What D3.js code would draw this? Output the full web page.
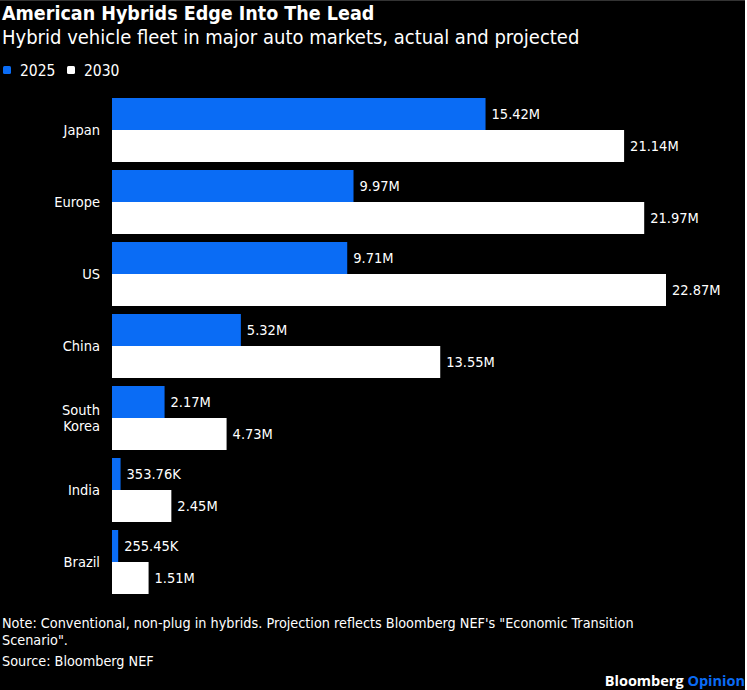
<!DOCTYPE html>
<html>
<head>
<meta charset="utf-8">
<script src="https://cdn.jsdelivr.net/npm/d3@7"></script>
<style>
  body { margin: 0; background: #fff; }
  svg text { font-family: "DejaVu Sans Condensed", "DejaVu Sans", sans-serif; }
</style>
</head>
<body>
<div id="chart"></div>
<script>
// data
var countries = ["Japan", "Europe", "US", "China", "South Korea", "India", "Brazil"];
var years = ["2025", "2030"];
var values2025 = [15.42, 9.97, 9.71, 5.32, 2.17, 0.35376, 0.25545];
var values2030 = [21.14, 21.97, 22.87, 13.55, 4.73, 2.45, 1.51];
var labels2025 = ["15.42M", "9.97M", "9.71M", "5.32M", "2.17M", "353.76K", "255.45K"];
var labels2030 = ["21.14M", "21.97M", "22.87M", "13.55M", "4.73M", "2.45M", "1.51M"];
var colors = ["#0a6cf5", "#ffffff"];

var width = 747, height = 690;

var svg = d3.select("#chart").append("svg")
    .attr("width", width)
    .attr("height", height);

svg.append("rect")
    .attr("width", 745).attr("height", height)
    .attr("fill", "#000");
svg.append("line")
    .attr("x1", 0).attr("x2", 745).attr("y1", 0.5).attr("y2", 0.5)
    .attr("stroke", "#333");

// titles
svg.append("text")
    .attr("x", 2).attr("y", 20)
    .attr("fill", "#fff")
    .style("font-size", "19.5px").style("font-weight", "bold")
    .text("American Hybrids Edge Into The Lead");
svg.append("text")
    .attr("x", 2).attr("y", 44)
    .attr("fill", "#fff")
    .style("font-size", "20px")
    .text("Hybrid vehicle fleet in major auto markets, actual and projected");

// legend
var legend = svg.selectAll("g.legend")
    .data(years)
  .enter().append("g")
    .attr("class", "legend")
    .attr("transform", function(d, i) { return "translate(" + (3 + i * 64) + ",66)"; });
legend.append("rect")
    .attr("width", 8).attr("height", 8).attr("rx", 1.5)
    .attr("fill", function(d, i) { return colors[i]; });
legend.append("text")
    .attr("x", 17).attr("y", 9.5)
    .attr("fill", "#fff")
    .style("font-size", "15.5px")
    .text(function(d) { return d; });

// scales
var x = d3.scaleLinear().domain([0, 22.87]).range([112, 666]);
var y = d3.scaleBand().domain(countries).range([94, 598])
    .paddingInner(1 / 9).paddingOuter(1 / 18);
var ySub = d3.scaleBand().domain(years).range([0, y.bandwidth()]);

var rows = countries.map(function(c, i) {
  return {
    country: c,
    bars: [
      { year: "2025", value: values2025[i], label: labels2025[i] },
      { year: "2030", value: values2030[i], label: labels2030[i] }
    ]
  };
});

var group = svg.selectAll("g.group")
    .data(rows)
  .enter().append("g")
    .attr("class", "group")
    .attr("transform", function(d) { return "translate(0," + y(d.country) + ")"; });

group.selectAll("rect")
    .data(function(d) { return d.bars; })
  .enter().append("rect")
    .attr("x", x(0))
    .attr("y", function(d) { return ySub(d.year); })
    .attr("width", function(d) { return x(d.value) - x(0); })
    .attr("height", ySub.bandwidth())
    .attr("fill", function(d, i) { return colors[i]; });

group.selectAll("text.value")
    .data(function(d) { return d.bars; })
  .enter().append("text")
    .attr("class", "value")
    .attr("x", function(d) { return x(d.value) + 6; })
    .attr("y", function(d) { return ySub(d.year) + ySub.bandwidth() / 2; })
    .attr("dy", "0.35em")
    .attr("fill", "#fff")
    .style("font-size", "14.5px")
    .text(function(d) { return d.label; });

// category labels, split on space for South Korea
group.append("text")
    .attr("class", "cat")
    .attr("x", 100)
    .attr("text-anchor", "end")
    .attr("fill", "#fff")
    .style("font-size", "14.5px")
    .each(function(d) {
      var words = d.country === "South Korea" ? ["South", "Korea"] : [d.country];
      var t = d3.select(this);
      var mid = y.bandwidth() / 2;
      words.forEach(function(w, k) {
        t.append("tspan")
          .attr("x", 100)
          .attr("y", mid + (k - (words.length - 1) / 2) * 16)
          .attr("dy", "0.35em")
          .text(w);
      });
    });

// footnotes
var notes = [
  "Note: Conventional, non-plug in hybrids. Projection reflects Bloomberg NEF's \"Economic Transition",
  "Scenario\".",
  "Source: Bloomberg NEF"
];
svg.selectAll("text.note")
    .data(notes)
  .enter().append("text")
    .attr("class", "note")
    .attr("x", 2)
    .attr("y", function(d, i) { return [628, 645, 666][i]; })
    .attr("fill", "#fff")
    .style("font-size", "14.3px")
    .text(function(d) { return d; });

var brand = svg.append("text")
    .attr("x", 745).attr("y", 686)
    .attr("text-anchor", "end")
    .style("font-size", "14.5px").style("font-weight", "bold")
    .style("font-family", "\"Open Sans\", sans-serif");
brand.append("tspan").attr("fill", "#fff").text("Bloomberg ");
brand.append("tspan").attr("fill", "#0a6cf5").text("Opinion");
</script>
</body>
</html>
